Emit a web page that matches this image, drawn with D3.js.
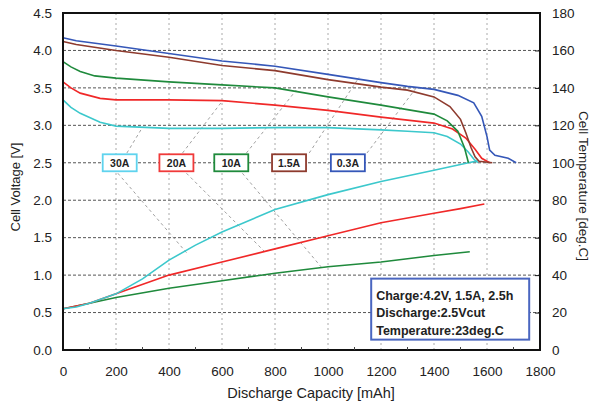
<!DOCTYPE html>
<html>
<head>
<meta charset="utf-8">
<script src="https://cdn.jsdelivr.net/npm/d3@7"></script>
<style>
  body { margin: 0; background: #fff; }
  svg { display: block; font-family: "Liberation Sans", Arial, sans-serif; }
</style>
</head>
<body>
<div id="chart"></div>
<script>
// discharge curves, capacity [mAh] / voltage [V]
const capBlue   = [0, 50, 200, 400, 600, 800, 1000, 1200, 1300, 1400, 1490, 1550, 1580, 1600, 1610, 1630, 1680, 1710]
const voltBlue  = [4.17, 4.13, 4.06, 3.96, 3.86, 3.79, 3.68, 3.57, 3.52, 3.48, 3.40, 3.30, 3.12, 2.85, 2.67, 2.60, 2.56, 2.50]
const capBrown  = [0, 50, 200, 400, 600, 800, 1000, 1200, 1300, 1400, 1460, 1500, 1520, 1540, 1555, 1570, 1620]
const voltBrown = [4.12, 4.08, 4.00, 3.91, 3.80, 3.73, 3.61, 3.51, 3.47, 3.38, 3.25, 3.08, 2.90, 2.70, 2.58, 2.52, 2.50]
const capGreen  = [0, 30, 65, 120, 200, 400, 600, 800, 1000, 1200, 1300, 1400, 1450, 1490, 1515, 1530]
const voltGreen = [3.85, 3.78, 3.72, 3.66, 3.63, 3.58, 3.54, 3.50, 3.38, 3.27, 3.21, 3.15, 3.06, 2.92, 2.70, 2.50]
const capRed    = [0, 30, 65, 140, 200, 400, 600, 800, 1000, 1200, 1300, 1400, 1470, 1520, 1555, 1580, 1610]
const voltRed   = [3.58, 3.50, 3.43, 3.36, 3.34, 3.34, 3.33, 3.27, 3.20, 3.11, 3.07, 3.03, 2.95, 2.83, 2.68, 2.56, 2.50]
const capCyan   = [0, 30, 65, 140, 200, 400, 600, 800, 1000, 1200, 1300, 1400, 1450, 1500, 1530, 1550, 1565]
const voltCyan  = [3.34, 3.24, 3.16, 3.04, 2.99, 2.96, 2.96, 2.97, 2.97, 2.94, 2.92, 2.90, 2.85, 2.75, 2.64, 2.55, 2.50]

// temperature curves, capacity [mAh] / temperature [deg.C]
const tcapCyan  = [0, 50, 100, 200, 300, 400, 500, 600, 800, 1000, 1200, 1400, 1530, 1565]
const tempCyan  = [22, 23, 25, 30, 38, 48, 56, 63, 75, 83, 90, 96, 100, 101]
const tcapRed   = [0, 100, 200, 400, 600, 800, 1000, 1200, 1400, 1500, 1590]
const tempRed   = [22, 25, 30, 40, 47, 54, 61, 68, 73, 75.5, 78]
const tcapGreen = [0, 0, 100, 200, 400, 600, 800, 1000, 1200, 1400, 1535]
const tempGreen = [0, 22, 25, 28, 33, 37, 41, 44.5, 47, 50.5, 52.5]

const labels   = ["30A", "20A", "10A", "1.5A", "0.3A"]
const labelCap = [214, 428, 635, 853, 1075]
const labelColors = ["#5fd3ee", "#f03a3a", "#1f8a3c", "#8e3b2e", "#3557b8"]

// leader lines: [cap1, v1, cap2, v2]
const leaders = [
    [241, 2.63, 301, 2.98], [451, 2.63, 598, 3.31], [692, 2.63, 880, 3.47],
    [929, 2.63, 1117, 3.64], [1147, 2.63, 1335, 3.51],
    [207, 2.36, 466, 1.30], [466, 2.36, 759, 1.32], [677, 2.36, 974, 1.11]
]

const xTicks = [0, 200, 400, 600, 800, 1000, 1200, 1400, 1600, 1800]
const yTicks = [0, 0.5, 1, 1.5, 2, 2.5, 3, 3.5, 4, 4.5]
const tTicks = [0, 20, 40, 60, 80, 100, 120, 140, 160, 180]
const noteLines = ["Charge:4.2V, 1.5A, 2.5h", "Discharge:2.5Vcut", "Temperature:23deg.C"]

const width = 597, height = 411
const margin = { top: 13, right: 57, bottom: 61, left: 63 }

const svg = d3.select("#chart").append("svg")
    .attr("width", width).attr("height", height)

const x = d3.scaleLinear().domain([0, 1800]).range([margin.left, width - margin.right])
const y = d3.scaleLinear().domain([0, 4.5]).range([height - margin.bottom, margin.top])
const yT = d3.scaleLinear().domain([0, 180]).range([height - margin.bottom, margin.top])

// grid
svg.append("g").selectAll("line")
    .data(xTicks.slice(1, -1))
    .join("line")
    .attr("x1", d => x(d)).attr("x2", d => x(d))
    .attr("y1", y(0)).attr("y2", y(4.5))
    .attr("stroke", "#aaa").attr("stroke-width", 1)
    .attr("stroke-dasharray", "2,3")

svg.append("g").selectAll("line")
    .data(yTicks.slice(1, -1))
    .join("line")
    .attr("x1", x(0)).attr("x2", x(1800))
    .attr("y1", d => y(d)).attr("y2", d => y(d))
    .attr("stroke", "#555").attr("stroke-width", 1)
    .attr("stroke-dasharray", "3,2")

// leader lines
svg.append("g").selectAll("line")
    .data(leaders)
    .join("line")
    .attr("x1", d => x(d[0])).attr("y1", d => y(d[1]))
    .attr("x2", d => x(d[2])).attr("y2", d => y(d[3]))
    .attr("stroke", "#888").attr("stroke-width", 0.8)
    .attr("stroke-dasharray", "3,3")

const lineV = (caps, vals) => d3.line()
    .x((d, i) => x(caps[i])).y(d => y(d))(vals)
const lineT = (caps, vals) => d3.line()
    .x((d, i) => x(caps[i])).y(d => yT(d))(vals)

const curves = [
    { path: lineT(tcapGreen, tempGreen), color: "#1f8a3c" },
    { path: lineT(tcapRed, tempRed), color: "#f02828" },
    { path: lineT(tcapCyan, tempCyan), color: "#3cc8cc" },
    { path: lineV(capCyan, voltCyan), color: "#3cc8cc" },
    { path: lineV(capRed, voltRed), color: "#f02828" },
    { path: lineV(capGreen, voltGreen), color: "#1f8a3c" },
    { path: lineV(capBrown, voltBrown), color: "#8e3b2e" },
    { path: lineV(capBlue, voltBlue), color: "#3557b8" }
]

svg.append("g").selectAll("path")
    .data(curves)
    .join("path")
    .attr("d", d => d.path)
    .attr("fill", "none")
    .attr("stroke", d => d.color)
    .attr("stroke-width", 1.6)

// frame
svg.append("rect")
    .attr("x", x(0)).attr("y", y(4.5))
    .attr("width", x(1800) - x(0)).attr("height", y(0) - y(4.5))
    .attr("fill", "none").attr("stroke", "#111").attr("stroke-width", 2)

// axes
const xAxis = svg.append("g")
    .attr("transform", `translate(0,${y(0)})`)
    .call(d3.axisBottom(x).tickValues(xTicks).tickFormat(d3.format("d")).tickSize(0).tickPadding(16))
const yAxis = svg.append("g")
    .attr("transform", `translate(${x(0)},0)`)
    .call(d3.axisLeft(y).tickValues(yTicks).tickFormat(d3.format(".1f")).tickSize(0).tickPadding(11))
const tAxis = svg.append("g")
    .attr("transform", `translate(${x(1800)},0)`)
    .call(d3.axisRight(yT).tickValues(tTicks).tickSize(-5).tickPadding(12))

for (const g of [xAxis, yAxis, tAxis]) {
    g.select(".domain").remove()
    g.selectAll("text").attr("font-size", 13.5).attr("fill", "#222")
}
tAxis.selectAll("line").attr("stroke", "#111")

// minor ticks on bottom
svg.append("g").selectAll("line")
    .data(d3.range(100, 1800, 200))
    .join("line")
    .attr("x1", d => x(d)).attr("x2", d => x(d))
    .attr("y1", y(0)).attr("y2", y(0) - 3)
    .attr("stroke", "#444")

// labels
const lab = svg.append("g").selectAll("g")
    .data(labels)
    .join("g")
    .attr("transform", (d, i) => `translate(${x(labelCap[i])},${y(2.5)})`)
lab.append("rect")
    .attr("x", -17).attr("y", -8.5).attr("width", 34).attr("height", 17)
    .attr("fill", "#fff")
    .attr("stroke", (d, i) => labelColors[i]).attr("stroke-width", 1.8)
lab.append("text")
    .attr("text-anchor", "middle").attr("dy", "0.36em")
    .attr("font-size", 10.5).attr("font-weight", "bold").attr("fill", "#222")
    .text(d => d)

// note box
const note = svg.append("g").attr("transform", `translate(${x(1163)},${y(0.953)})`)
note.append("rect")
    .attr("width", 158).attr("height", 61)
    .attr("fill", "#fff").attr("stroke", "#4a66c0").attr("stroke-width", 2)
note.selectAll("text")
    .data(noteLines)
    .join("text")
    .attr("x", 5).attr("y", (d, i) => 21 + i * 17.5)
    .attr("font-size", 12.5).attr("font-weight", "bold").attr("fill", "#222")
    .text(d => d)

// axis titles
svg.append("text")
    .attr("transform", `translate(20,187) rotate(-90)`)
    .attr("text-anchor", "middle").attr("font-size", 13).attr("fill", "#222")
    .text("Cell Voltage [V]")
svg.append("text")
    .attr("transform", `translate(579,186) rotate(90)`)
    .attr("text-anchor", "middle").attr("font-size", 13.5).attr("fill", "#222")
    .text("Cell Temperature [deg.C]")
svg.append("text")
    .attr("x", 311).attr("y", 398)
    .attr("text-anchor", "middle").attr("font-size", 14.5).attr("fill", "#222")
    .text("Discharge Capacity [mAh]")
</script>
</body>
</html>
